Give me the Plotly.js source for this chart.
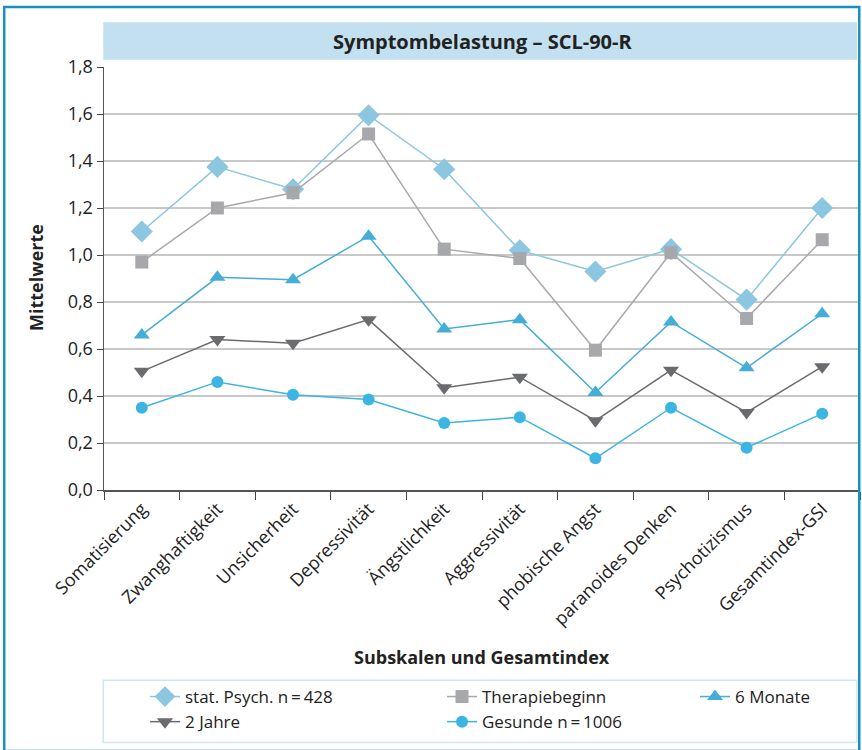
<!DOCTYPE html>
<html><head><meta charset="utf-8">
<script src="https://cdn.plot.ly/plotly-3.0.1.min.js"></script>
<style>body{margin:0;padding:0;background:#fff}#chart{width:862px;height:750px}</style>
</head><body><div id="chart"></div>
<script>
const categories = ["Somatisierung","Zwanghaftigkeit","Unsicherheit","Depressivität","Ängstlichkeit","Aggressivität","phobische Angst","paranoides Denken","Psychotizismus","Gesamtindex-GSI"];
const statPsych = [1.10,1.375,1.28,1.595,1.365,1.02,0.93,1.025,0.81,1.20];
const therapiebeginn = [0.97,1.20,1.265,1.515,1.025,0.985,0.595,1.01,0.73,1.065];
const sechsMonate = [0.66,0.905,0.895,1.08,0.685,0.725,0.415,0.715,0.52,0.75];
const zweiJahre = [0.505,0.64,0.625,0.725,0.435,0.48,0.295,0.51,0.33,0.525];
const gesunde = [0.35,0.46,0.405,0.385,0.285,0.31,0.135,0.35,0.18,0.325];
const seriesNames = ["stat. Psych. n\u2009=\u2009428","Therapiebeginn","6 Monate","2 Jahre","Gesunde n\u2009=\u20091006"];
const yTicks = [0,0.2,0.4,0.6,0.8,1.0,1.2,1.4,1.6,1.8];

const font = "Open Sans, Noto Sans, sans-serif";
function tr(name, y, color, symbol, size, leg){
  return {x: categories, y: y, name: name, type: 'scatter', mode: 'lines+markers', legend: leg,
    line: {color: color, width: 1.5},
    marker: {color: color, symbol: symbol, size: size}};
}
const data = [
  tr(seriesNames[0], statPsych, '#8cc6e0', 'diamond', 17, 'legend'),
  tr(seriesNames[1], therapiebeginn, '#a7a8ab', 'square', 13, 'legend2'),
  tr(seriesNames[2], sechsMonate, '#45aed6', 'triangle-up', 14, 'legend3'),
  tr(seriesNames[3], zweiJahre, '#6a6b6e', 'triangle-down', 14, 'legend'),
  tr(seriesNames[4], gesunde, '#3db5e3', 'circle', 12, 'legend2')
];
function leg(xpx){
  return {orientation: 'v', xref: 'container', yref: 'container', x: xpx/862, y: 1 - 679/750,
    xanchor: 'left', yanchor: 'top', font: {size: 17, family: font, color: '#222'},
    bgcolor: 'rgba(0,0,0,0)', tracegroupgap: 0, itemwidth: 30, traceorder: 'normal'};
}
const layout = {
  width: 862, height: 750,
  margin: {l: 104, r: 2, t: 67, b: 260, autoexpand: false},
  separators: ',.',
  font: {family: font, size: 17, color: '#222'},
  paper_bgcolor: '#fff', plot_bgcolor: '#fff',
  showlegend: true,
  legend: leg(145), legend2: leg(442), legend3: leg(695),
  xaxis: {type: 'category', tickangle: -45, tickson: 'boundaries', ticks: 'outside', ticklen: 8,
    tickcolor: '#444', showline: true, linecolor: '#555', linewidth: 1.5, showgrid: false, automargin: false,
    tickfont: {size: 18, family: font, color: '#222'}, range: [-0.5, 9.5]},
  yaxis: {range: [0, 1.8], tickvals: yTicks, tickformat: '.1f', ticks: 'outside', ticklen: 6, automargin: false,
    tickcolor: '#444', showline: true, linecolor: '#555', linewidth: 1.5,
    showgrid: true, gridcolor: '#c8c8c8', gridwidth: 1.2, zeroline: false,
    tickfont: {size: 18, family: font, color: '#222'}},
  shapes: [
    {type: 'rect', xref: 'paper', yref: 'paper', x0: -0.132, x1: 0.999, y0: -0.617, y1: 1.142,
      line: {color: '#1a8fc0', width: 2.5}, fillcolor: 'rgba(0,0,0,0)'},
    {type: 'rect', xref: 'paper', yref: 'paper', x0: -0.001, x1: 0.996, y0: 1.017, y1: 1.106,
      line: {width: 0}, fillcolor: '#c2e0ef', layer: 'below'},
    {type: 'rect', xref: 'paper', yref: 'paper', x0: -0.001, x1: 0.996, y0: -0.597, y1: -0.450,
      line: {color: '#cfe6f2', width: 1.5}, fillcolor: 'rgba(0,0,0,0)'}
  ],
  annotations: [
    {text: '<b>Symptombelastung – SCL-90-R</b>', xref: 'paper', yref: 'paper', x: 0.5, y: 1.061,
      showarrow: false, font: {size: 20, family: font, color: '#222'}, xanchor: 'center', yanchor: 'middle'},
    {text: '<b>Subskalen und Gesamtindex</b>', xref: 'paper', yref: 'paper', x: (482-104)/756, y: (490-657)/423,
      showarrow: false, font: {size: 18, family: font, color: '#222'}, xanchor: 'center', yanchor: 'middle'},
    {text: '<b>Mittelwerte</b>', xref: 'paper', yref: 'paper', x: (36-104)/756, y: (490-278)/423,
      textangle: -90, showarrow: false, font: {size: 18, family: font, color: '#222'}, xanchor: 'center', yanchor: 'middle'}
  ]
};
Plotly.newPlot('chart', data, layout, {displayModeBar: false, staticPlot: true});
</script></body></html>
